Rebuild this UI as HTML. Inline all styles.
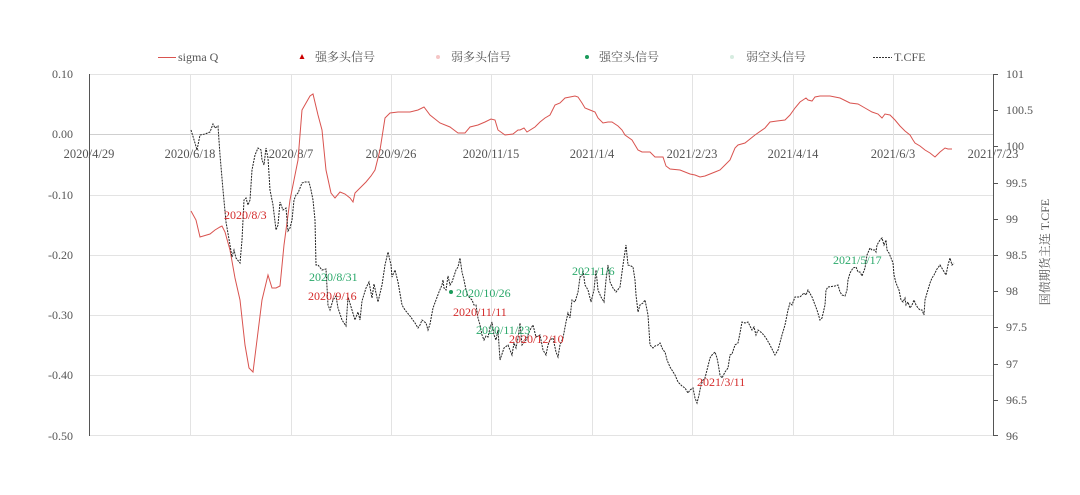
<!DOCTYPE html>
<html><head><meta charset="utf-8"><style>
body{margin:0;background:#fff;}
svg{display:block;font-family:"Liberation Serif","Noto Serif CJK SC",serif;}
</style></head><body>
<svg width="1080" height="495" viewBox="0 0 1080 495" xmlns="http://www.w3.org/2000/svg">
<rect width="1080" height="495" fill="#fff"/>
<!-- grid -->
<g stroke="#e3e3e3" stroke-width="1">
<line x1="89" y1="74.5" x2="993" y2="74.5"/>
<line x1="89" y1="134.5" x2="993" y2="134.5" stroke="#cfcfcf"/>
<line x1="89" y1="195.5" x2="993" y2="195.5"/>
<line x1="89" y1="255.5" x2="993" y2="255.5"/>
<line x1="89" y1="315.5" x2="993" y2="315.5"/>
<line x1="89" y1="375.5" x2="993" y2="375.5"/>
<line x1="89" y1="435.5" x2="993" y2="435.5"/>
<line x1="190.5" y1="74" x2="190.5" y2="436"/>
<line x1="291.5" y1="74" x2="291.5" y2="436"/>
<line x1="391.5" y1="74" x2="391.5" y2="436"/>
<line x1="491.5" y1="74" x2="491.5" y2="436"/>
<line x1="592.5" y1="74" x2="592.5" y2="436"/>
<line x1="692.5" y1="74" x2="692.5" y2="436"/>
<line x1="793.5" y1="74" x2="793.5" y2="436"/>
<line x1="893.5" y1="74" x2="893.5" y2="436"/>
</g>
<line x1="89.5" y1="74" x2="89.5" y2="436" stroke="#555" stroke-width="1"/>
<line x1="993.5" y1="74" x2="993.5" y2="436" stroke="#555" stroke-width="1"/>
<g stroke="#555">
<line x1="993" y1="74.5" x2="998" y2="74.5"/><line x1="993" y1="110.5" x2="998" y2="110.5"/>
<line x1="993" y1="146.5" x2="998" y2="146.5"/><line x1="993" y1="183.5" x2="998" y2="183.5"/>
<line x1="993" y1="219.5" x2="998" y2="219.5"/><line x1="993" y1="255.5" x2="998" y2="255.5"/>
<line x1="993" y1="291.5" x2="998" y2="291.5"/><line x1="993" y1="327.5" x2="998" y2="327.5"/>
<line x1="993" y1="364.5" x2="998" y2="364.5"/><line x1="993" y1="400.5" x2="998" y2="400.5"/>
<line x1="993" y1="435.5" x2="998" y2="435.5"/>
</g>
<!-- left labels -->
<g font-size="12" fill="#555" text-anchor="end">
<text x="73" y="78">0.10</text><text x="73" y="138">0.00</text><text x="73" y="199">-0.10</text>
<text x="73" y="259">-0.20</text><text x="73" y="319">-0.30</text><text x="73" y="379">-0.40</text><text x="73" y="440">-0.50</text>
</g>
<g font-size="12" fill="#555">
<text x="1006" y="78">101</text><text x="1006" y="114">100.5</text><text x="1006" y="150">100</text>
<text x="1006" y="187">99.5</text><text x="1006" y="223">99</text><text x="1006" y="259">98.5</text>
<text x="1006" y="295">98</text><text x="1006" y="331">97.5</text><text x="1006" y="368">97</text>
<text x="1006" y="404">96.5</text><text x="1006" y="440">96</text>
</g>
<text transform="translate(1049,252) rotate(-90)" font-size="12" fill="#555" text-anchor="middle">国债期货主连  T.CFE</text>
<!-- date labels -->
<g font-size="12.5" fill="#555" text-anchor="middle">
<text x="89" y="158">2020/4/29</text><text x="190" y="158">2020/6/18</text><text x="291" y="158">2020/8/7</text>
<text x="391" y="158">2020/9/26</text><text x="491" y="158">2020/11/15</text><text x="592" y="158">2021/1/4</text>
<text x="692" y="158">2021/2/23</text><text x="793" y="158">2021/4/14</text><text x="893" y="158">2021/6/3</text>
<text x="993" y="158">2021/7/23</text>
</g>
<!-- legend -->
<g font-size="12" fill="#555">
<line x1="158" y1="57.5" x2="176" y2="57.5" stroke="#d9534f"/>
<text x="178" y="61">sigma Q</text>
<polygon points="302,54 304.5,59 299.5,59" fill="#c00"/>
<text x="315" y="61">强多头信号</text>
<circle cx="438" cy="57" r="2" fill="#f5c6c6"/>
<text x="451" y="61">弱多头信号</text>
<circle cx="587" cy="57" r="2" fill="#1a9a5a"/>
<text x="599" y="61">强空头信号</text>
<circle cx="732" cy="57" r="2" fill="#d6ece0"/>
<text x="746" y="61">弱空头信号</text>
<line x1="873" y1="57.5" x2="892" y2="57.5" stroke="#333" stroke-dasharray="2,1"/>
<text x="894" y="61">T.CFE</text>
</g>
<!-- sigma Q -->
<polyline fill="none" stroke="#d9534f" stroke-width="1" points="191,211 196,220 200,237 210,234 215,230 220,227 222,226 225,232 230,250 235,278 240,300 245,345 249,368 253,372 257,340 262,300 268,275 272,288 276,288 280,286 284,245 290,200 294,180 298,160 302,110 310,96 313,94 318,115 322,130 326,170 331,193 335,198 340,192 345,194 350,198 353,202 355,193 360,188 366,182 371,176 375,170 380,150 385,118 390,113 398,112 410,112 418,110 424,107 430,115 440,123 450,127 458,133 465,133 470,127 478,125 485,122 491,119 495,120 498,130 505,135 513,134 518,130 520,130 524,128 527,132 535,127 540,122 545,118 550,115 555,105 560,103 565,98 570,97 575,96 578,97 582,103 585,108 590,110 595,112 598,118 603,123 608,122 612,122 618,126 622,130 625,135 632,140 638,150 642,152 650,152 655,157 663,157 666,166 670,169 680,170 690,174 695,175 700,177 705,176 710,174 715,172 720,170 725,165 730,160 735,148 738,145 745,143 755,135 765,128 770,122 777,121 785,120 790,115 795,108 800,102 806,98 808,100 812,101 815,97 820,96 830,96 840,98 850,103 858,104 865,108 872,112 878,114 882,118 885,114 890,115 895,120 900,126 905,131 910,135 913,140 915,143 920,146 925,150 930,153 935,157 938,154 940,152 945,148 948,149 952,149"/>
<!-- T.CFE -->
<polyline fill="none" stroke="#222" stroke-width="1" stroke-dasharray="2,1" points="191,130 195,143 197,150 200,135 205,134 210,132 213,124 215,128 218,126 220,155 223,190 226,222 230,245 232,257 234,250 236,258 240,263 242,240 244,200 246,198 248,205 250,200 252,170 255,155 258,148 261,150 262,160 264,165 266,148 268,158 270,190 273,205 276,230 278,225 280,202 283,210 286,208 288,231 290,228 292,220 294,200 296,195 298,193 302,183 305,182 309,182 311,190 313,200 315,220 316,265 318,265 322,270 326,269 328,305 330,310 333,300 336,296 338,308 342,320 346,326 348,297 352,310 355,320 358,312 360,320 362,301 366,288 369,282 372,298 374,284 378,302 382,285 385,265 388,252 391,265 392,277 395,270 398,282 402,305 405,310 410,316 415,323 418,328 420,325 422,320 426,323 428,330 430,324 433,308 436,300 439,292 442,285 443,280 444,288 446,290 448,276 450,285 452,282 454,276 456,270 458,267 460,258 462,272 464,280 466,290 468,296 470,298 472,300 474,305 476,305 478,318 480,325 482,335 484,340 486,336 488,337 490,328 492,322 494,335 496,340 498,330 500,360 504,348 508,345 512,355 514,343 516,348 518,338 520,323 522,345 526,340 530,330 533,325 536,337 540,335 543,350 546,355 548,345 550,340 553,338 556,352 558,357 560,345 563,338 566,322 568,313 570,318 572,300 575,302 578,292 580,277 582,276 583,270 585,285 588,290 591,302 594,290 596,270 598,290 601,297 604,302 606,280 608,265 610,282 613,288 616,292 620,287 623,265 626,245 628,265 631,266 633,267 635,280 636,295 638,312 640,305 643,303 645,300 648,315 650,345 653,348 655,346 658,345 660,343 663,350 665,352 667,360 670,367 675,375 678,382 682,386 685,388 688,393 690,390 693,388 695,398 697,403 699,395 701,385 703,380 705,378 707,370 710,358 712,355 715,352 717,358 718,363 720,375 722,378 725,372 728,368 730,355 732,354 735,345 738,343 740,333 742,322 745,323 748,322 752,330 754,327 756,335 758,330 762,333 766,338 770,345 775,355 778,350 782,335 785,325 788,310 790,303 792,305 795,297 800,297 804,293 806,295 808,290 812,297 817,310 820,320 822,318 825,305 826,290 828,287 835,286 838,285 840,292 842,295 845,296 847,290 848,280 850,273 853,268 856,267 858,272 860,272 862,276 865,268 867,255 870,248 872,250 875,250 876,252 877,245 880,240 882,238 884,245 886,240 887,250 889,253 891,258 893,263 894,275 896,283 899,290 901,300 903,302 905,298 906,305 908,302 910,308 912,305 914,300 916,305 918,308 920,310 922,310 924,315 925,300 927,293 930,283 932,278 934,275 937,269 940,265 943,270 946,275 948,265 950,258 952,265 954,263"/>
<circle cx="451" cy="292" r="2" fill="#1a9a5a"/>
<!-- annotations -->
<g font-size="12">
<text x="224" y="219" fill="#d42a2a">2020/8/3</text>
<text x="309" y="281" fill="#2aa86a">2020/8/31</text>
<text x="308" y="300" fill="#d42a2a">2020/9/16</text>
<text x="456" y="297" fill="#2aa86a">2020/10/26</text>
<text x="453" y="316" fill="#d42a2a">2020/11/11</text>
<text x="476" y="334" fill="#2aa86a">2020/11/23</text>
<text x="509" y="343" fill="#d42a2a">2020/12/10</text>
<text x="572" y="275" fill="#2aa86a">2021/1/6</text>
<text x="697" y="386" fill="#d42a2a">2021/3/11</text>
<text x="833" y="264" fill="#2aa86a">2021/5/17</text>
</g>
</svg>
</body></html>
